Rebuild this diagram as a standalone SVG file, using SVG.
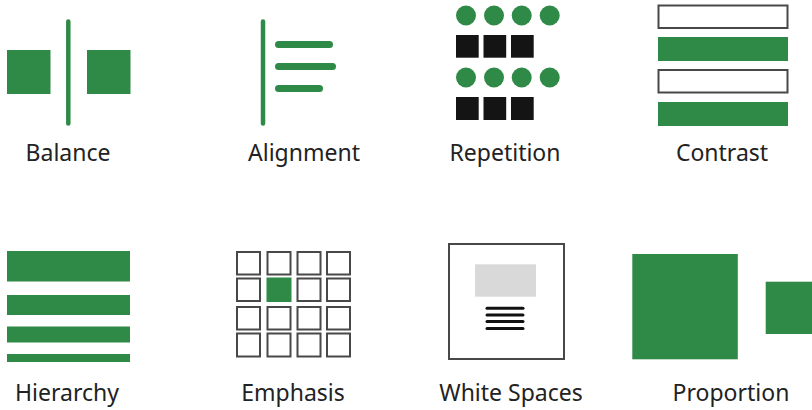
<svg xmlns="http://www.w3.org/2000/svg" width="812" height="410" viewBox="0 0 812 410">
<style>
.g{fill:#2f8a47}
.gs{stroke:#2f8a47;stroke-linecap:round;fill:none}
.k{fill:#141414}
.o{fill:#fff;stroke:#484848;stroke-width:2}
.t{font-family:"Noto Sans","Liberation Sans",sans-serif;font-size:23px;fill:#222;text-anchor:middle}
</style>
<rect width="812" height="410" fill="#fff"/>
<g id="balance">
<rect class="g" x="7" y="50" width="43.5" height="44"/>
<rect class="g" x="87" y="50" width="43.5" height="44"/>
<line class="gs" x1="68.3" y1="21.5" x2="68.3" y2="123.5" stroke-width="4.5"/>
<text class="t" x="68" y="161">Balance</text>
</g>
<g id="alignment">
<line class="gs" x1="263" y1="21.5" x2="263" y2="123.5" stroke-width="4.5"/>
<line class="gs" x1="278.5" y1="44.5" x2="329.5" y2="44.5" stroke-width="7"/>
<line class="gs" x1="278.5" y1="66.5" x2="332.5" y2="66.5" stroke-width="7"/>
<line class="gs" x1="278.5" y1="88.5" x2="319.5" y2="88.5" stroke-width="7"/>
<text class="t" x="304" y="161">Alignment</text>
</g>
<g id="repetition">
<circle class="g" cx="466" cy="15.5" r="10"/>
<circle class="g" cx="494" cy="15.5" r="10"/>
<circle class="g" cx="521.7" cy="15.5" r="10"/>
<circle class="g" cx="549.7" cy="15.5" r="10"/>
<rect class="k" x="456" y="35" width="22.7" height="22.7"/>
<rect class="k" x="483.5" y="35" width="22.7" height="22.7"/>
<rect class="k" x="511" y="35" width="22.7" height="22.7"/>
<circle class="g" cx="466" cy="77.5" r="10"/>
<circle class="g" cx="494" cy="77.5" r="10"/>
<circle class="g" cx="521.7" cy="77.5" r="10"/>
<circle class="g" cx="549.7" cy="77.5" r="10"/>
<rect class="k" x="456" y="97" width="22.7" height="23"/>
<rect class="k" x="483.5" y="97" width="22.7" height="23"/>
<rect class="k" x="511" y="97" width="22.7" height="23"/>
<text class="t" x="505" y="160.5">Repetition</text>
</g>
<g id="contrast">
<rect class="o" x="658.5" y="5.5" width="129" height="22.5"/>
<rect class="g" x="658" y="37" width="130" height="24"/>
<rect class="o" x="658.5" y="70" width="129" height="22.5"/>
<rect class="g" x="658" y="102" width="130" height="24"/>
<text class="t" x="722" y="160.5">Contrast</text>
</g>
<g id="hierarchy">
<rect class="g" x="7" y="251" width="123" height="30.5"/>
<rect class="g" x="7" y="295" width="123" height="20"/>
<rect class="g" x="7" y="326.5" width="123" height="16"/>
<rect class="g" x="7" y="354" width="123" height="8"/>
<text class="t" x="67" y="401">Hierarchy</text>
</g>
<g id="emphasis">
<rect class="o" x="237" y="252" width="23" height="22.5"/>
<rect class="o" x="267.5" y="252" width="23" height="22.5"/>
<rect class="o" x="297.5" y="252" width="23" height="22.5"/>
<rect class="o" x="327" y="252" width="23" height="22.5"/>
<rect class="o" x="237" y="278.5" width="23" height="22.5"/>
<rect class="g" x="266.5" y="277.5" width="25" height="24.5"/>
<rect class="o" x="297.5" y="278.5" width="23" height="22.5"/>
<rect class="o" x="327" y="278.5" width="23" height="22.5"/>
<rect class="o" x="237" y="307" width="23" height="22.5"/>
<rect class="o" x="267.5" y="307" width="23" height="22.5"/>
<rect class="o" x="297.5" y="307" width="23" height="22.5"/>
<rect class="o" x="327" y="307" width="23" height="22.5"/>
<rect class="o" x="237" y="333.5" width="23" height="23"/>
<rect class="o" x="267.5" y="333.5" width="23" height="23"/>
<rect class="o" x="297.5" y="333.5" width="23" height="23"/>
<rect class="o" x="327" y="333.5" width="23" height="23"/>
<text class="t" x="293" y="401">Emphasis</text>
</g>
<g id="white-spaces">
<rect class="o" x="449" y="244" width="115" height="115"/>
<rect x="475" y="264.3" width="61" height="32.4" fill="#d9d9d9"/>
<g stroke="#111" stroke-width="3" stroke-linecap="round">
<line x1="487" y1="308.3" x2="523" y2="308.3"/>
<line x1="487" y1="315" x2="523" y2="315"/>
<line x1="487" y1="321.5" x2="523" y2="321.5"/>
<line x1="487" y1="328.5" x2="523" y2="328.5"/>
</g>
<text class="t" x="511" y="401">White Spaces</text>
</g>
<g id="proportion">
<rect class="g" x="632.3" y="254" width="105.5" height="105.3"/>
<rect class="g" x="765.7" y="281.7" width="50" height="52.3"/>
<text class="t" x="731" y="401">Proportion</text>
</g>
</svg>
